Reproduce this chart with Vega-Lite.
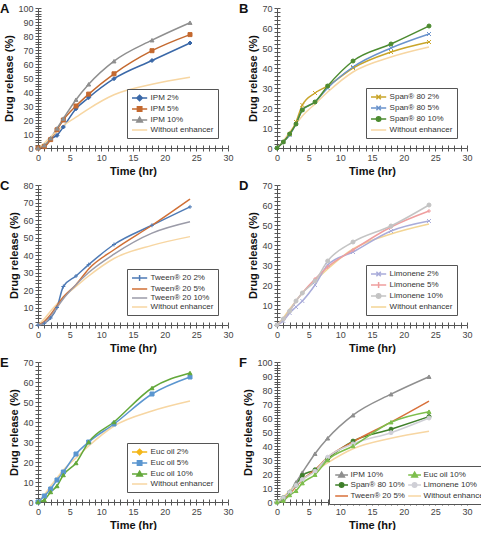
{
  "$schema": "https://vega.github.io/schema/vega-lite/v6.json",
  "padding": {"left": 0, "top": 3, "right": 0, "bottom": 0},
  "config": {
    "view": {"stroke": null},
    "font": "Liberation Sans",
    "axis": {"domainColor": "#555", "tickColor": "#555", "labelColor": "#444", "labelFontSize": 9, "titleFontSize": 11, "titleFontWeight": "bold", "titleColor": "#111", "labelFont": "Liberation Sans", "titleFont": "Liberation Sans", "grid": false, "labelOverlap": false, "labelFlush": false},
    "legend": {"strokeColor": "#555", "fillColor": "white", "padding": 4, "labelFontSize": 8, "labelFont": "Liberation Sans", "labelColor": "#333", "rowPadding": -2.5, "symbolSize": 64, "symbolStrokeWidth": 1.5, "symbolOffset": 3.6, "labelOffset": 6, "title": null},
    "title": {"font": "Liberation Sans", "fontSize": 13, "fontWeight": "bold", "color": "#111", "anchor": "start", "frame": "group"}
  },
  "data": {"values": [
    {"series": "IPM 2%", "time": 0, "release": 0}, {"series": "IPM 2%", "time": 1, "release": 1}, {"series": "IPM 2%", "time": 2, "release": 6.5}, {"series": "IPM 2%", "time": 3, "release": 9}, {"series": "IPM 2%", "time": 4, "release": 15}, {"series": "IPM 2%", "time": 6, "release": 28}, {"series": "IPM 2%", "time": 8, "release": 36}, {"series": "IPM 2%", "time": 12, "release": 49.5}, {"series": "IPM 2%", "time": 18, "release": 62.5}, {"series": "IPM 2%", "time": 24, "release": 75},
    {"series": "IPM 5%", "time": 0, "release": 0}, {"series": "IPM 5%", "time": 1, "release": 1}, {"series": "IPM 5%", "time": 2, "release": 6}, {"series": "IPM 5%", "time": 3, "release": 13}, {"series": "IPM 5%", "time": 4, "release": 20}, {"series": "IPM 5%", "time": 6, "release": 30}, {"series": "IPM 5%", "time": 8, "release": 38.5}, {"series": "IPM 5%", "time": 12, "release": 53}, {"series": "IPM 5%", "time": 18, "release": 69.5}, {"series": "IPM 5%", "time": 24, "release": 81},
    {"series": "IPM 10%", "time": 0, "release": 0}, {"series": "IPM 10%", "time": 1, "release": 2}, {"series": "IPM 10%", "time": 2, "release": 7}, {"series": "IPM 10%", "time": 3, "release": 14}, {"series": "IPM 10%", "time": 4, "release": 21}, {"series": "IPM 10%", "time": 6, "release": 34.5}, {"series": "IPM 10%", "time": 8, "release": 45.5}, {"series": "IPM 10%", "time": 12, "release": 62}, {"series": "IPM 10%", "time": 18, "release": 77}, {"series": "IPM 10%", "time": 24, "release": 89.5},
    {"series": "Without enhancer", "time": 0, "release": 0}, {"series": "Without enhancer", "time": 1, "release": 3.5}, {"series": "Without enhancer", "time": 2, "release": 8}, {"series": "Without enhancer", "time": 3, "release": 12}, {"series": "Without enhancer", "time": 4, "release": 16}, {"series": "Without enhancer", "time": 6, "release": 22}, {"series": "Without enhancer", "time": 8, "release": 28}, {"series": "Without enhancer", "time": 12, "release": 38}, {"series": "Without enhancer", "time": 18, "release": 45.5}, {"series": "Without enhancer", "time": 24, "release": 50.5},
    {"series": "Span® 80 2%", "time": 0, "release": 0}, {"series": "Span® 80 2%", "time": 1, "release": 3}, {"series": "Span® 80 2%", "time": 2, "release": 7}, {"series": "Span® 80 2%", "time": 3, "release": 13}, {"series": "Span® 80 2%", "time": 4, "release": 21.5}, {"series": "Span® 80 2%", "time": 6, "release": 27.5}, {"series": "Span® 80 2%", "time": 8, "release": 31}, {"series": "Span® 80 2%", "time": 12, "release": 40}, {"series": "Span® 80 2%", "time": 18, "release": 48}, {"series": "Span® 80 2%", "time": 24, "release": 53},
    {"series": "Span® 80 5%", "time": 0, "release": 0}, {"series": "Span® 80 5%", "time": 1, "release": 3}, {"series": "Span® 80 5%", "time": 2, "release": 6.5}, {"series": "Span® 80 5%", "time": 3, "release": 12}, {"series": "Span® 80 5%", "time": 4, "release": 19}, {"series": "Span® 80 5%", "time": 6, "release": 23}, {"series": "Span® 80 5%", "time": 8, "release": 30}, {"series": "Span® 80 5%", "time": 12, "release": 40.5}, {"series": "Span® 80 5%", "time": 18, "release": 50}, {"series": "Span® 80 5%", "time": 24, "release": 57},
    {"series": "Span® 80 10%", "time": 0, "release": 0}, {"series": "Span® 80 10%", "time": 1, "release": 3}, {"series": "Span® 80 10%", "time": 2, "release": 7}, {"series": "Span® 80 10%", "time": 3, "release": 12}, {"series": "Span® 80 10%", "time": 4, "release": 19}, {"series": "Span® 80 10%", "time": 6, "release": 23}, {"series": "Span® 80 10%", "time": 8, "release": 31}, {"series": "Span® 80 10%", "time": 12, "release": 43.5}, {"series": "Span® 80 10%", "time": 18, "release": 52}, {"series": "Span® 80 10%", "time": 24, "release": 61},
    {"series": "Tween® 20 2%", "time": 0, "release": 0}, {"series": "Tween® 20 2%", "time": 1, "release": 1}, {"series": "Tween® 20 2%", "time": 2, "release": 4}, {"series": "Tween® 20 2%", "time": 3, "release": 10}, {"series": "Tween® 20 2%", "time": 4, "release": 22}, {"series": "Tween® 20 2%", "time": 6, "release": 28}, {"series": "Tween® 20 2%", "time": 8, "release": 34.5}, {"series": "Tween® 20 2%", "time": 12, "release": 46}, {"series": "Tween® 20 2%", "time": 18, "release": 57}, {"series": "Tween® 20 2%", "time": 24, "release": 67.5},
    {"series": "Tween® 20 5%", "time": 0, "release": 0}, {"series": "Tween® 20 5%", "time": 1, "release": 2}, {"series": "Tween® 20 5%", "time": 2, "release": 6}, {"series": "Tween® 20 5%", "time": 3, "release": 11}, {"series": "Tween® 20 5%", "time": 4, "release": 16}, {"series": "Tween® 20 5%", "time": 6, "release": 23}, {"series": "Tween® 20 5%", "time": 8, "release": 32}, {"series": "Tween® 20 5%", "time": 12, "release": 43}, {"series": "Tween® 20 5%", "time": 18, "release": 57}, {"series": "Tween® 20 5%", "time": 24, "release": 72},
    {"series": "Tween® 20 10%", "time": 0, "release": 0}, {"series": "Tween® 20 10%", "time": 1, "release": 1}, {"series": "Tween® 20 10%", "time": 2, "release": 5}, {"series": "Tween® 20 10%", "time": 3, "release": 10}, {"series": "Tween® 20 10%", "time": 4, "release": 15}, {"series": "Tween® 20 10%", "time": 6, "release": 23}, {"series": "Tween® 20 10%", "time": 8, "release": 30}, {"series": "Tween® 20 10%", "time": 12, "release": 40.5}, {"series": "Tween® 20 10%", "time": 18, "release": 52.5}, {"series": "Tween® 20 10%", "time": 24, "release": 59},
    {"series": "Limonene 2%", "time": 0, "release": 0}, {"series": "Limonene 2%", "time": 1, "release": 2}, {"series": "Limonene 2%", "time": 2, "release": 6}, {"series": "Limonene 2%", "time": 3, "release": 9}, {"series": "Limonene 2%", "time": 4, "release": 12}, {"series": "Limonene 2%", "time": 6, "release": 20}, {"series": "Limonene 2%", "time": 8, "release": 30}, {"series": "Limonene 2%", "time": 12, "release": 36.5}, {"series": "Limonene 2%", "time": 18, "release": 47}, {"series": "Limonene 2%", "time": 24, "release": 52},
    {"series": "Limonene 5%", "time": 0, "release": 0}, {"series": "Limonene 5%", "time": 1, "release": 3}, {"series": "Limonene 5%", "time": 2, "release": 7}, {"series": "Limonene 5%", "time": 3, "release": 12}, {"series": "Limonene 5%", "time": 4, "release": 16}, {"series": "Limonene 5%", "time": 6, "release": 23}, {"series": "Limonene 5%", "time": 8, "release": 29}, {"series": "Limonene 5%", "time": 12, "release": 37.5}, {"series": "Limonene 5%", "time": 18, "release": 49}, {"series": "Limonene 5%", "time": 24, "release": 57},
    {"series": "Limonene 10%", "time": 0, "release": 0}, {"series": "Limonene 10%", "time": 1, "release": 3}, {"series": "Limonene 10%", "time": 2, "release": 7}, {"series": "Limonene 10%", "time": 3, "release": 12}, {"series": "Limonene 10%", "time": 4, "release": 16}, {"series": "Limonene 10%", "time": 6, "release": 22}, {"series": "Limonene 10%", "time": 8, "release": 32}, {"series": "Limonene 10%", "time": 12, "release": 41.5}, {"series": "Limonene 10%", "time": 18, "release": 49.5}, {"series": "Limonene 10%", "time": 24, "release": 60},
    {"series": "Euc oil 5%", "time": 0, "release": 0}, {"series": "Euc oil 5%", "time": 1, "release": 3}, {"series": "Euc oil 5%", "time": 2, "release": 6.5}, {"series": "Euc oil 5%", "time": 3, "release": 11}, {"series": "Euc oil 5%", "time": 4, "release": 15}, {"series": "Euc oil 5%", "time": 6, "release": 24}, {"series": "Euc oil 5%", "time": 8, "release": 30}, {"series": "Euc oil 5%", "time": 12, "release": 39}, {"series": "Euc oil 5%", "time": 18, "release": 54}, {"series": "Euc oil 5%", "time": 24, "release": 62.5},
    {"series": "Euc oil 10%", "time": 0, "release": 0}, {"series": "Euc oil 10%", "time": 1, "release": 1}, {"series": "Euc oil 10%", "time": 2, "release": 5}, {"series": "Euc oil 10%", "time": 3, "release": 8}, {"series": "Euc oil 10%", "time": 4, "release": 13.5}, {"series": "Euc oil 10%", "time": 6, "release": 19.5}, {"series": "Euc oil 10%", "time": 8, "release": 30}, {"series": "Euc oil 10%", "time": 12, "release": 40}, {"series": "Euc oil 10%", "time": 18, "release": 57}, {"series": "Euc oil 10%", "time": 24, "release": 64.5}
  ]},
  "columns": 2,
  "spacing": {"row": 37, "column": 49},
  "bounds": "flush",
  "resolve": {"scale": {"x": "independent", "y": "independent", "color": "independent", "fill": "independent", "shape": "independent"}, "legend": {"color": "independent"}},
  "concat": [
    {
      "width": 190, "height": 140,
      "title": {"text": "A", "dx": -38, "offset": -12},
      "transform": [{"filter": {"field": "series", "oneOf": ["IPM 2%", "IPM 5%", "IPM 10%", "Without enhancer"]}}],
      "layer": [
        {"mark": {"type": "line", "interpolate": "monotone", "strokeWidth": 1.5},
         "encoding": {
           "x": {"field": "time", "type": "quantitative", "scale": {"domain": [0, 30], "nice": false}, "axis": {"title": "Time (hr)", "tickCount": 30, "labelExpr": "datum.value % 5 === 0 ? datum.label : ''", "tickSize": 3, "labelPadding": 2, "titlePadding": 3}},
           "y": {"field": "release", "type": "quantitative", "scale": {"domain": [0, 100], "nice": false}, "axis": {"title": "Drug release (%)", "tickCount": 50, "labelExpr": "datum.value % 10 === 0 ? datum.label : ''", "tickSize": 3, "labelPadding": 2, "titlePadding": 3}},
           "color": {"field": "series", "type": "nominal", "scale": {"domain": ["IPM 2%", "IPM 5%", "IPM 10%", "Without enhancer"], "range": ["#3A68A8", "#C4692F", "#8F8F8F", "#F7D6A2"]},
             "legend": {"orient": "bottom-right", "offset": 10,
               "encode": {"symbols": {"update": {
                 "shape": {"signal": "['M-1.9,0L1.9,0M0,-0.7L0.7,0L0,0.7L-0.7,0Z','M-1.9,0L1.9,0M-0.55,-0.55L0.55,-0.55L0.55,0.55L-0.55,0.55Z','M-1.9,0L1.9,0M0,-0.7L0.7,0.5L-0.7,0.5Z','M-1.9,0L1.9,0'][indexof(['IPM 2%','IPM 5%','IPM 10%','Without enhancer'], datum.value)]"},
                 "fill": {"signal": "['#3A68A8','#C4692F','#8F8F8F','#F7D6A2'][indexof(['IPM 2%','IPM 5%','IPM 10%','Without enhancer'], datum.value)]"},
                 "stroke": {"signal": "['#3A68A8','#C4692F','#8F8F8F','#F7D6A2'][indexof(['IPM 2%','IPM 5%','IPM 10%','Without enhancer'], datum.value)]"},
                 "opacity": {"value": 1}}}}}}
         }},
        {"transform": [{"filter": {"field": "series", "oneOf": ["IPM 2%", "IPM 5%", "IPM 10%"]}}],
         "mark": {"type": "point", "filled": false, "strokeWidth": 1, "size": 16, "opacity": 1},
         "encoding": {
           "x": {"field": "time", "type": "quantitative", "axis": {"orient": "bottom", "tickCount": 30, "tickSize": -3, "labels": false, "domain": false, "title": null}},
           "y": {"field": "release", "type": "quantitative", "axis": {"orient": "left", "tickCount": 50, "tickSize": -3, "labels": false, "domain": false, "title": null}},
           "color": {"field": "series", "type": "nominal"},
           "fill": {"field": "series", "type": "nominal", "scale": {"domain": ["IPM 2%", "IPM 5%", "IPM 10%"], "range": ["#3A68A8", "#C4692F", "#8F8F8F"]}, "legend": null},
           "shape": {"field": "series", "type": "nominal", "scale": {"domain": ["IPM 2%", "IPM 5%", "IPM 10%"], "range": ["diamond", "square", "triangle-up"]}, "legend": null}
         }}
      ],
      "resolve": {"axis": {"x": "independent", "y": "independent"}}
    },
    {
      "width": 190, "height": 140,
      "title": {"text": "B", "dx": -38, "offset": -12},
      "transform": [{"filter": {"field": "series", "oneOf": ["Span® 80 2%", "Span® 80 5%", "Span® 80 10%", "Without enhancer"]}}],
      "layer": [
        {"mark": {"type": "line", "interpolate": "monotone", "strokeWidth": 1.5},
         "encoding": {
           "x": {"field": "time", "type": "quantitative", "scale": {"domain": [0, 30], "nice": false}, "axis": {"title": "Time (hr)", "tickCount": 30, "labelExpr": "datum.value % 5 === 0 ? datum.label : ''", "tickSize": 3, "labelPadding": 2, "titlePadding": 3}},
           "y": {"field": "release", "type": "quantitative", "scale": {"domain": [0, 70], "nice": false}, "axis": {"title": "Drug release (%)", "tickCount": 35, "labelExpr": "datum.value % 10 === 0 ? datum.label : ''", "tickSize": 3, "labelPadding": 2, "titlePadding": 3}},
           "color": {"field": "series", "type": "nominal", "scale": {"domain": ["Span® 80 2%", "Span® 80 5%", "Span® 80 10%", "Without enhancer"], "range": ["#C9A52A", "#6A93CC", "#4C8B30", "#F7D6A2"]},
             "legend": {"orient": "bottom-right", "offset": 10,
               "encode": {"symbols": {"update": {
                 "shape": {"signal": "['M-1.9,0L1.9,0M-0.55,-0.55L0.55,0.55M-0.55,0.55L0.55,-0.55','M-1.9,0L1.9,0M-0.55,-0.55L0.55,0.55M-0.55,0.55L0.55,-0.55','M-1.9,0L1.9,0M0.55,0A0.55,0.55,0,1,1,-0.55,0A0.55,0.55,0,1,1,0.55,0Z','M-1.9,0L1.9,0'][indexof(['Span® 80 2%','Span® 80 5%','Span® 80 10%','Without enhancer'], datum.value)]"},
                 "fill": {"signal": "['#C9A52A','#6A93CC','#4C8B30','#F7D6A2'][indexof(['Span® 80 2%','Span® 80 5%','Span® 80 10%','Without enhancer'], datum.value)]"},
                 "stroke": {"signal": "['#C9A52A','#6A93CC','#4C8B30','#F7D6A2'][indexof(['Span® 80 2%','Span® 80 5%','Span® 80 10%','Without enhancer'], datum.value)]"},
                 "opacity": {"value": 1}}}}}}
         }},
        {"transform": [{"filter": {"field": "series", "oneOf": ["Span® 80 2%", "Span® 80 5%", "Span® 80 10%"]}}],
         "mark": {"type": "point", "filled": false, "strokeWidth": 1, "size": 16, "opacity": 1},
         "encoding": {
           "x": {"field": "time", "type": "quantitative", "axis": {"orient": "bottom", "tickCount": 30, "tickSize": -3, "labels": false, "domain": false, "title": null}},
           "y": {"field": "release", "type": "quantitative", "axis": {"orient": "left", "tickCount": 35, "tickSize": -3, "labels": false, "domain": false, "title": null}},
           "color": {"field": "series", "type": "nominal"},
           "fill": {"field": "series", "type": "nominal", "scale": {"domain": ["Span® 80 2%", "Span® 80 5%", "Span® 80 10%"], "range": ["#C9A52A", "#6A93CC", "#4C8B30"]}, "legend": null},
           "shape": {"field": "series", "type": "nominal", "scale": {"domain": ["Span® 80 2%", "Span® 80 5%", "Span® 80 10%"], "range": ["M-1,-1L1,1M-1,1L1,-1", "M-1,-1L1,1M-1,1L1,-1", "circle"]}, "legend": null}
         }}
      ],
      "resolve": {"axis": {"x": "independent", "y": "independent"}}
    },
    {
      "width": 190, "height": 140,
      "title": {"text": "C", "dx": -38, "offset": -12},
      "transform": [{"filter": {"field": "series", "oneOf": ["Tween® 20 2%", "Tween® 20 5%", "Tween® 20 10%", "Without enhancer"]}}],
      "layer": [
        {"mark": {"type": "line", "interpolate": "monotone", "strokeWidth": 1.5},
         "encoding": {
           "x": {"field": "time", "type": "quantitative", "scale": {"domain": [0, 30], "nice": false}, "axis": {"title": "Time (hr)", "tickCount": 30, "labelExpr": "datum.value % 5 === 0 ? datum.label : ''", "tickSize": 3, "labelPadding": 2, "titlePadding": 3}},
           "y": {"field": "release", "type": "quantitative", "scale": {"domain": [0, 80], "nice": false}, "axis": {"title": "Drug release (%)", "tickCount": 40, "labelExpr": "datum.value % 10 === 0 ? datum.label : ''", "tickSize": 3, "labelPadding": 2, "titlePadding": 3}},
           "color": {"field": "series", "type": "nominal", "scale": {"domain": ["Tween® 20 2%", "Tween® 20 5%", "Tween® 20 10%", "Without enhancer"], "range": ["#4E7AB5", "#D06F35", "#9B9BA8", "#F7D6A2"]},
             "legend": {"orient": "bottom-right", "offset": 10,
               "encode": {"symbols": {"update": {
                 "shape": {"signal": "['M-1.9,0L1.9,0M0,-0.75L0,0.75','M-1.9,0L1.9,0','M-1.9,0L1.9,0','M-1.9,0L1.9,0'][indexof(['Tween® 20 2%','Tween® 20 5%','Tween® 20 10%','Without enhancer'], datum.value)]"},
                 "fill": {"signal": "['#4E7AB5','#D06F35','#9B9BA8','#F7D6A2'][indexof(['Tween® 20 2%','Tween® 20 5%','Tween® 20 10%','Without enhancer'], datum.value)]"},
                 "stroke": {"signal": "['#4E7AB5','#D06F35','#9B9BA8','#F7D6A2'][indexof(['Tween® 20 2%','Tween® 20 5%','Tween® 20 10%','Without enhancer'], datum.value)]"},
                 "opacity": {"value": 1}}}}}}
         }},
        {"transform": [{"filter": {"field": "series", "oneOf": ["Tween® 20 2%"]}}],
         "mark": {"type": "point", "filled": false, "strokeWidth": 1, "size": 16, "opacity": 1},
         "encoding": {
           "x": {"field": "time", "type": "quantitative", "axis": {"orient": "bottom", "tickCount": 30, "tickSize": -3, "labels": false, "domain": false, "title": null}},
           "y": {"field": "release", "type": "quantitative", "axis": {"orient": "left", "tickCount": 40, "tickSize": -3, "labels": false, "domain": false, "title": null}},
           "color": {"field": "series", "type": "nominal"},
           "fill": {"field": "series", "type": "nominal", "scale": {"domain": ["Tween® 20 2%"], "range": ["#4E7AB5"]}, "legend": null},
           "shape": {"field": "series", "type": "nominal", "scale": {"domain": ["Tween® 20 2%"], "range": ["M-1,0L1,0M0,-1L0,1"]}, "legend": null}
         }}
      ],
      "resolve": {"axis": {"x": "independent", "y": "independent"}}
    },
    {
      "width": 190, "height": 140,
      "title": {"text": "D", "dx": -38, "offset": -12},
      "transform": [{"filter": {"field": "series", "oneOf": ["Limonene 2%", "Limonene 5%", "Limonene 10%", "Without enhancer"]}}],
      "layer": [
        {"mark": {"type": "line", "interpolate": "monotone", "strokeWidth": 1.5},
         "encoding": {
           "x": {"field": "time", "type": "quantitative", "scale": {"domain": [0, 30], "nice": false}, "axis": {"title": "Time (hr)", "tickCount": 30, "labelExpr": "datum.value % 5 === 0 ? datum.label : ''", "tickSize": 3, "labelPadding": 2, "titlePadding": 3}},
           "y": {"field": "release", "type": "quantitative", "scale": {"domain": [0, 70], "nice": false}, "axis": {"title": "Drug release (%)", "tickCount": 35, "labelExpr": "datum.value % 10 === 0 ? datum.label : ''", "tickSize": 3, "labelPadding": 2, "titlePadding": 3}},
           "color": {"field": "series", "type": "nominal", "scale": {"domain": ["Limonene 2%", "Limonene 5%", "Limonene 10%", "Without enhancer"], "range": ["#A9ACDA", "#EF9E9E", "#C4C4C4", "#F3D594"]},
             "legend": {"orient": "bottom-right", "offset": 10,
               "encode": {"symbols": {"update": {
                 "shape": {"signal": "['M-1.9,0L1.9,0M-0.55,-0.55L0.55,0.55M-0.55,0.55L0.55,-0.55','M-1.9,0L1.9,0M0,-0.75L0,0.75','M-1.9,0L1.9,0M0.55,0A0.55,0.55,0,1,1,-0.55,0A0.55,0.55,0,1,1,0.55,0Z','M-1.9,0L1.9,0'][indexof(['Limonene 2%','Limonene 5%','Limonene 10%','Without enhancer'], datum.value)]"},
                 "fill": {"signal": "['#A9ACDA','#EF9E9E','#C4C4C4','#F3D594'][indexof(['Limonene 2%','Limonene 5%','Limonene 10%','Without enhancer'], datum.value)]"},
                 "stroke": {"signal": "['#A9ACDA','#EF9E9E','#C4C4C4','#F3D594'][indexof(['Limonene 2%','Limonene 5%','Limonene 10%','Without enhancer'], datum.value)]"},
                 "opacity": {"value": 1}}}}}}
         }},
        {"transform": [{"filter": {"field": "series", "oneOf": ["Limonene 2%", "Limonene 5%", "Limonene 10%"]}}],
         "mark": {"type": "point", "filled": false, "strokeWidth": 1, "size": 16, "opacity": 1},
         "encoding": {
           "x": {"field": "time", "type": "quantitative", "axis": {"orient": "bottom", "tickCount": 30, "tickSize": -3, "labels": false, "domain": false, "title": null}},
           "y": {"field": "release", "type": "quantitative", "axis": {"orient": "left", "tickCount": 35, "tickSize": -3, "labels": false, "domain": false, "title": null}},
           "color": {"field": "series", "type": "nominal"},
           "fill": {"field": "series", "type": "nominal", "scale": {"domain": ["Limonene 2%", "Limonene 5%", "Limonene 10%"], "range": ["#A9ACDA", "#EF9E9E", "#C4C4C4"]}, "legend": null},
           "shape": {"field": "series", "type": "nominal", "scale": {"domain": ["Limonene 2%", "Limonene 5%", "Limonene 10%"], "range": ["M-1,-1L1,1M-1,1L1,-1", "M-1,0L1,0M0,-1L0,1", "circle"]}, "legend": null}
         }}
      ],
      "resolve": {"axis": {"x": "independent", "y": "independent"}}
    },
    {
      "width": 190, "height": 140,
      "title": {"text": "E", "dx": -38, "offset": -12},
      "transform": [{"filter": {"field": "series", "oneOf": ["Euc oil 2%", "Euc oil 5%", "Euc oil 10%", "Without enhancer"]}}],
      "layer": [
        {"mark": {"type": "line", "interpolate": "monotone", "strokeWidth": 1.5},
         "encoding": {
           "x": {"field": "time", "type": "quantitative", "scale": {"domain": [0, 30], "nice": false}, "axis": {"title": "Time (hr)", "tickCount": 30, "labelExpr": "datum.value % 5 === 0 ? datum.label : ''", "tickSize": 3, "labelPadding": 2, "titlePadding": 3}},
           "y": {"field": "release", "type": "quantitative", "scale": {"domain": [0, 70], "nice": false}, "axis": {"title": "Drug release (%)", "tickCount": 35, "labelExpr": "datum.value % 10 === 0 ? datum.label : ''", "tickSize": 3, "labelPadding": 2, "titlePadding": 3}},
           "color": {"field": "series", "type": "nominal", "scale": {"domain": ["Euc oil 2%", "Euc oil 5%", "Euc oil 10%", "Without enhancer"], "range": ["#F4B719", "#5B96D0", "#63A83A", "#F7D6A2"]},
             "legend": {"orient": "bottom-right", "offset": 10,
               "encode": {"symbols": {"update": {
                 "shape": {"signal": "['M-1.9,0L1.9,0M0,-0.7L0.7,0L0,0.7L-0.7,0Z','M-1.9,0L1.9,0M-0.55,-0.55L0.55,-0.55L0.55,0.55L-0.55,0.55Z','M-1.9,0L1.9,0M0,-0.7L0.7,0.5L-0.7,0.5Z','M-1.9,0L1.9,0'][indexof(['Euc oil 2%','Euc oil 5%','Euc oil 10%','Without enhancer'], datum.value)]"},
                 "fill": {"signal": "['#F4B719','#5B96D0','#63A83A','#F7D6A2'][indexof(['Euc oil 2%','Euc oil 5%','Euc oil 10%','Without enhancer'], datum.value)]"},
                 "stroke": {"signal": "['#F4B719','#5B96D0','#63A83A','#F7D6A2'][indexof(['Euc oil 2%','Euc oil 5%','Euc oil 10%','Without enhancer'], datum.value)]"},
                 "opacity": {"value": 1}}}}}}
         }},
        {"transform": [{"filter": {"field": "series", "oneOf": ["Euc oil 5%", "Euc oil 10%"]}}],
         "mark": {"type": "point", "filled": false, "strokeWidth": 1, "size": 16, "opacity": 1},
         "encoding": {
           "x": {"field": "time", "type": "quantitative", "axis": {"orient": "bottom", "tickCount": 30, "tickSize": -3, "labels": false, "domain": false, "title": null}},
           "y": {"field": "release", "type": "quantitative", "axis": {"orient": "left", "tickCount": 35, "tickSize": -3, "labels": false, "domain": false, "title": null}},
           "color": {"field": "series", "type": "nominal"},
           "fill": {"field": "series", "type": "nominal", "scale": {"domain": ["Euc oil 5%", "Euc oil 10%"], "range": ["#5B96D0", "#63A83A"]}, "legend": null},
           "shape": {"field": "series", "type": "nominal", "scale": {"domain": ["Euc oil 5%", "Euc oil 10%"], "range": ["square", "triangle-up"]}, "legend": null}
         }}
      ],
      "resolve": {"axis": {"x": "independent", "y": "independent"}}
    },
    {
      "width": 190, "height": 140,
      "title": {"text": "F", "dx": -38, "offset": -12},
      "transform": [{"filter": {"field": "series", "oneOf": ["IPM 10%", "Euc oil 10%", "Span® 80 10%", "Limonene 10%", "Tween® 20 5%", "Without enhancer"]}}],
      "layer": [
        {"mark": {"type": "line", "interpolate": "monotone", "strokeWidth": 1.5},
         "encoding": {
           "x": {"field": "time", "type": "quantitative", "scale": {"domain": [0, 30], "nice": false}, "axis": {"title": "Time (hr)", "tickCount": 30, "labelExpr": "datum.value % 5 === 0 ? datum.label : ''", "tickSize": 3, "labelPadding": 2, "titlePadding": 3}},
           "y": {"field": "release", "type": "quantitative", "scale": {"domain": [0, 100], "nice": false}, "axis": {"title": "Drug release (%)", "tickCount": 50, "labelExpr": "datum.value % 10 === 0 ? datum.label : ''", "tickSize": 3, "labelPadding": 2, "titlePadding": 3}},
           "color": {"field": "series", "type": "nominal", "scale": {"domain": ["IPM 10%", "Span® 80 10%", "Tween® 20 5%", "Euc oil 10%", "Limonene 10%", "Without enhancer"], "range": ["#8F8F8F", "#3F7F2A", "#D8703A", "#7DBE4C", "#CFCFD6", "#F7D6A2"]},
             "legend": {"orient": "none", "legendX": 52, "legendY": 104, "offset": 0, "columns": 2, "columnPadding": 0, "labelOffset": 4,
               "encode": {"symbols": {"update": {
                 "shape": {"signal": "['M-1.6,0L1.6,0M0,-0.7L0.7,0.5L-0.7,0.5Z','M-1.6,0L1.6,0M0.55,0A0.55,0.55,0,1,1,-0.55,0A0.55,0.55,0,1,1,0.55,0Z','M-1.6,0L1.6,0','M-1.6,0L1.6,0M0,-0.7L0.7,0.5L-0.7,0.5Z','M-1.6,0L1.6,0M0.55,0A0.55,0.55,0,1,1,-0.55,0A0.55,0.55,0,1,1,0.55,0Z','M-1.6,0L1.6,0'][indexof(['IPM 10%','Span® 80 10%','Tween® 20 5%','Euc oil 10%','Limonene 10%','Without enhancer'], datum.value)]"},
                 "fill": {"signal": "['#8F8F8F','#3F7F2A','#D8703A','#7DBE4C','#CFCFD6','#F7D6A2'][indexof(['IPM 10%','Span® 80 10%','Tween® 20 5%','Euc oil 10%','Limonene 10%','Without enhancer'], datum.value)]"},
                 "stroke": {"signal": "['#8F8F8F','#3F7F2A','#D8703A','#7DBE4C','#CFCFD6','#F7D6A2'][indexof(['IPM 10%','Span® 80 10%','Tween® 20 5%','Euc oil 10%','Limonene 10%','Without enhancer'], datum.value)]"},
                 "opacity": {"value": 1}}}}}}
         }},
        {"transform": [{"filter": {"field": "series", "oneOf": ["IPM 10%", "Euc oil 10%", "Span® 80 10%", "Limonene 10%"]}}],
         "mark": {"type": "point", "filled": false, "strokeWidth": 1, "size": 16, "opacity": 1},
         "encoding": {
           "x": {"field": "time", "type": "quantitative", "axis": {"orient": "bottom", "tickCount": 30, "tickSize": -3, "labels": false, "domain": false, "title": null}},
           "y": {"field": "release", "type": "quantitative", "axis": {"orient": "left", "tickCount": 50, "tickSize": -3, "labels": false, "domain": false, "title": null}},
           "color": {"field": "series", "type": "nominal"},
           "fill": {"field": "series", "type": "nominal", "scale": {"domain": ["IPM 10%", "Euc oil 10%", "Span® 80 10%", "Limonene 10%"], "range": ["#8F8F8F", "#7DBE4C", "#3F7F2A", "#CFCFD6"]}, "legend": null},
           "shape": {"field": "series", "type": "nominal", "scale": {"domain": ["IPM 10%", "Euc oil 10%", "Span® 80 10%", "Limonene 10%"], "range": ["triangle-up", "triangle-up", "circle", "circle"]}, "legend": null}
         }}
      ],
      "resolve": {"axis": {"x": "independent", "y": "independent"}}
    }
  ]
}
